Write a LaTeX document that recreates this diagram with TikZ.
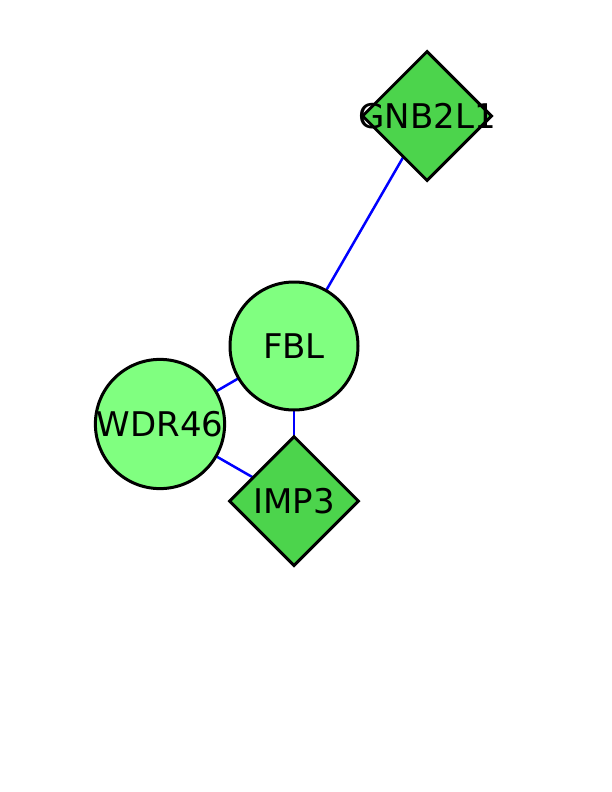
\documentclass[tikz,border=0pt]{standalone}
\usepackage{fontspec}
\setmainfont{DejaVu Sans}
\usetikzlibrary{shapes.geometric,backgrounds}
\definecolor{circfill}{RGB}{128,255,128}
\definecolor{diafill}{RGB}{76,212,76}
\definecolor{edgeblue}{RGB}{0,0,255}
\begin{document}
\begin{tikzpicture}[x=1pt,y=-1pt,
  circnode/.style={circle,draw=black,line width=3pt,fill=circfill,minimum size=128pt,inner sep=0pt,font=\fontsize{34}{36}\selectfont},
  dianode/.style={diamond,draw=black,line width=3pt,fill=diafill,minimum width=130pt,minimum height=130pt,inner sep=0pt},
  dialabel/.style={inner sep=0pt,font=\fontsize{34}{36}\selectfont},
  edge/.style={draw=edgeblue,line width=2.5pt}]
\useasboundingbox (0,0) rectangle (612,792);
\node[dianode] (gnb) at (427,116) {};
\node[dialabel] (gnbt) at (gnb.center) {GNB2L1};
\node[circnode] (fbl) at (294,346) {FBL};
\node[circnode] (wdr) at (160,424) {WDR46};
\node[dianode] (imp) at (294,501) {};
\node[dialabel] (impt) at (imp.center) {IMP3};
\begin{scope}[on background layer]
\draw[edge] (gnb.center) -- (fbl.center);
\draw[edge] (fbl.center) -- (wdr.center);
\draw[edge] (fbl.center) -- (imp.center);
\draw[edge] (wdr.center) -- (imp.center);
\end{scope}
\end{tikzpicture}
\end{document}
